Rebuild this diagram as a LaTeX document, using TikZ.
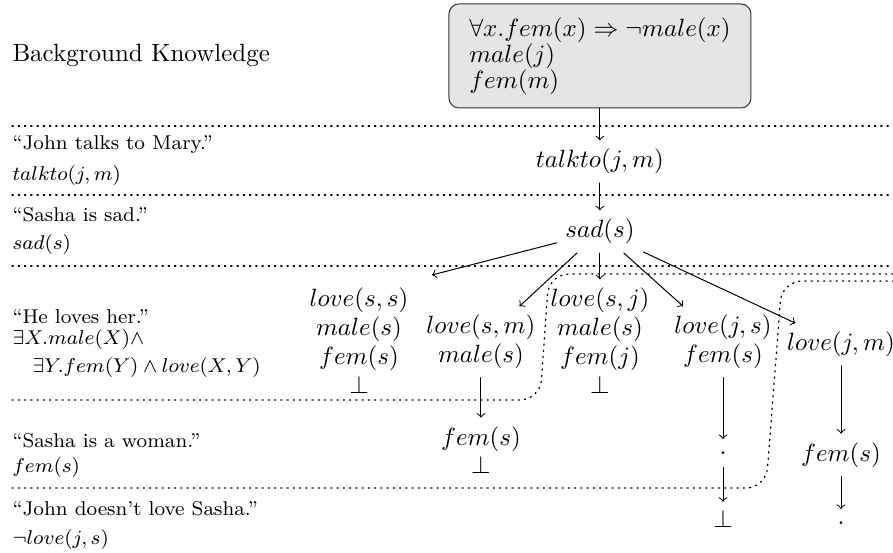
\documentclass[tikz,border=0pt]{standalone}
\usepackage{amsmath,amssymb}
\tikzset{
  every picture/.style={line join=round, line cap=round},
  divider/.style={dotted, line width=0.5pt},
  lbl/.style={anchor=west, inner sep=0pt, font=\footnotesize},
  bkbox/.style={draw=black!80, fill=gray!20, rounded corners=4pt, align=left, minimum width=120.8pt, minimum height=41.6pt},
  stack/.style={align=center},
  dotnode/.style={inner sep=5pt},
}

\begin{document}
\begin{tikzpicture}
\useasboundingbox (0,0) rectangle (12.555,-7.761);
\node[lbl,font=\normalsize] (bk) at (0.169,-0.773) {Background Knowledge};
\node[bkbox] (facts) at (8.435,-0.787) {$\forall x.fem(x)\Rightarrow\neg male(x)$\\[-1.6pt]$male(j)$\\[-1.6pt]$fem(m)$};
\draw[divider] (0.169,-1.771)--(12.555,-1.771);
\draw[divider] (0.169,-2.741)--(12.555,-2.741);
\draw[divider] (0.169,-3.740)--(12.555,-3.740);
\draw[divider,rounded corners=8pt] (0.169,-5.624)--(7.592,-5.624)--(7.718,-3.852)--(12.555,-3.852);
\draw[divider,rounded corners=8pt] (0.169,-6.861)--(10.769,-6.861)--(10.994,-3.951)--(12.555,-3.951);
\node[lbl] (s1) at (0.169,-2.039) {``John talks to Mary.''};
\node[lbl] (f1) at (0.169,-2.474) {$talkto(j,m)$};
\node[lbl] (s2) at (0.169,-3.023) {``Sasha is sad.''};
\node[lbl] (f2) at (0.169,-3.444) {$sad(s)$};
\node[lbl] (s3) at (0.169,-4.457) {``He loves her.''};
\node[lbl] (f3) at (0.169,-4.780) {$\exists X.male(X)\wedge$};
\node[lbl] (f3b) at (0.169,-5.160) {\quad$\exists Y.fem(Y)\wedge love(X,Y)$};
\node[lbl] (s4) at (0.169,-6.200) {``Sasha is a woman.''};
\node[lbl] (f4) at (0.169,-6.566) {$fem(s)$};
\node[lbl] (s5) at (0.169,-7.156) {``John doesn't love Sasha.''};
\node[lbl] (f5) at (0.169,-7.578) {$\neg love(j,s)$};
\node (talk) at (8.435,-2.273) {$talkto(j,m)$};
\node (sad) at (8.435,-3.257) {$sad(s)$};
\node[stack] (colA) at (5.047,-4.789) {$love(s,s)$\\[-.5pt]$male(s)$\\[-.5pt]$fem(s)$\\[-.5pt]$\bot$};
\node[stack] (colC) at (8.435,-4.789) {$love(s,j)$\\[-.5pt]$male(s)$\\[-.5pt]$fem(j)$\\[-.5pt]$\bot$};
\node[stack] (lsm) at (6.762,-4.808) {$love(s,m)$\\[-.5pt]$male(s)$};
\node[stack] (fsB) at (6.762,-6.330) {$fem(s)$\\[-.5pt]$\bot$};
\node[stack] (ljs) at (10.165,-4.808) {$love(j,s)$\\[-.5pt]$fem(s)$};
\node[dotnode] (dotD) at (10.165,-6.373) {.};
\node (botD) at (10.165,-7.301) {$\bot$};
\node (ljm) at (11.824,-4.843) {$love(j,m)$};
\node (fsE) at (11.824,-6.397) {$fem(s)$};
\node[dotnode] (dotE) at (11.824,-7.357) {.};
\coordinate (tipA) at (6.073,-3.866);
\draw[->] (facts) -- (talk);
\draw[->] (talk) -- (sad);
\draw[->] (sad) -- (tipA);
\draw[->] (sad) -- (lsm);
\draw[->] (sad) -- (colC);
\draw[->] (sad) -- (ljs);
\draw[->] (sad) -- (ljm);
\draw[->] (lsm) -- (fsB);
\draw[->] (ljs) -- (dotD);
\draw[->] (dotD) -- (botD);
\draw[->] (ljm) -- (fsE);
\draw[->] (fsE) -- (dotE);
\end{tikzpicture}
\end{document}
